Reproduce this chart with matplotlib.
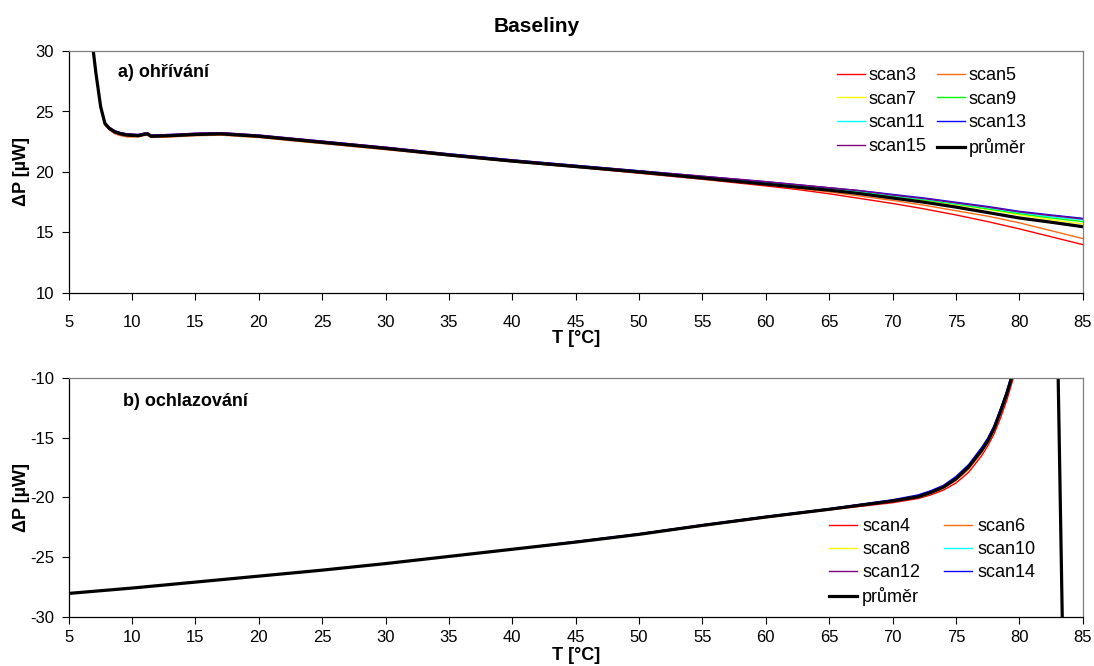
import matplotlib
matplotlib.use("Agg")
import matplotlib.pyplot as plt

plt.rcParams['font.family'] = ['Liberation Sans', 'DejaVu Sans']
plt.rcParams['axes.unicode_minus'] = False

# ---------------- data: a) heating ----------------
top_T = [6.94, 7.15, 7.52, 7.86, 8.2, 8.65, 9.1, 9.6, 10.5, 10.9, 11.2, 11.5, 13, 15, 17, 20,
         25, 30, 35, 40, 45, 50, 55, 60, 62.5, 65, 67.5, 70, 72.5, 75, 77.5, 80, 82.5, 85]
top_avg = [30.0, 28.15, 25.4, 24.0, 23.6, 23.3, 23.15, 23.05, 23.0, 23.1, 23.15, 22.95, 23.0, 23.1,
           23.15, 22.95, 22.45, 21.95, 21.4, 20.9, 20.45, 20.0, 19.5, 19.0, 18.75, 18.5, 18.2,
           17.85, 17.5, 17.1, 16.65, 16.2, 15.85, 15.48]
scan3 = [30.0, 28.05, 25.3, 23.9, 23.5, 23.2, 23.05, 22.95, 22.95, 23.05, 23.1, 22.9, 22.95, 23.05,
         23.1, 22.9, 22.4, 21.9, 21.35, 20.85, 20.4, 19.9, 19.4, 18.85, 18.55, 18.2, 17.8,
         17.4, 16.95, 16.45, 15.9, 15.3, 14.65, 14.0]
scan5 = [30.0, 28.05, 25.3, 23.9, 23.5, 23.15, 23.0, 22.9, 22.9, 23.0, 23.05, 22.85, 22.9, 23.0,
         23.05, 22.85, 22.35, 21.85, 21.35, 20.85, 20.4, 19.95, 19.45, 18.95, 18.65, 18.35, 18.0,
         17.65, 17.25, 16.8, 16.35, 15.8, 15.15, 14.5]
scan7 = [30.0, 28.15, 25.4, 24.0, 23.6, 23.3, 23.15, 23.05, 23.0, 23.1, 23.15, 22.95, 23.0, 23.1,
         23.15, 22.95, 22.45, 21.95, 21.45, 20.95, 20.5, 20.05, 19.55, 19.05, 18.8, 18.55, 18.3,
         17.95, 17.65, 17.3, 16.9, 16.45, 16.05, 15.7]
scan9 = [30.0, 28.15, 25.4, 24.0, 23.6, 23.3, 23.15, 23.1, 23.05, 23.15, 23.2, 23.0, 23.05, 23.15,
         23.2, 23.0, 22.5, 22.0, 21.45, 20.95, 20.5, 20.05, 19.6, 19.1, 18.85, 18.6, 18.35,
         18.0, 17.7, 17.35, 16.95, 16.55, 16.2, 15.9]
scan11 = [30.0, 28.15, 25.4, 24.0, 23.65, 23.35, 23.2, 23.1, 23.05, 23.15, 23.2, 23.0, 23.05, 23.15,
          23.2, 23.0, 22.5, 22.0, 21.5, 21.0, 20.55, 20.1, 19.6, 19.15, 18.9, 18.65, 18.4,
          18.05, 17.75, 17.4, 17.05, 16.65, 16.3, 16.05]
scan13 = [30.0, 28.2, 25.5, 24.1, 23.7, 23.4, 23.25, 23.15, 23.1, 23.2, 23.25, 23.05, 23.1, 23.2,
          23.25, 23.05, 22.55, 22.05, 21.5, 21.0, 20.55, 20.1, 19.65, 19.2, 18.95, 18.7, 18.45,
          18.15, 17.85, 17.5, 17.15, 16.75, 16.45, 16.17]
scan15 = [30.0, 28.2, 25.5, 24.1, 23.7, 23.4, 23.25, 23.15, 23.1, 23.2, 23.25, 23.05, 23.1, 23.2,
          23.25, 23.05, 22.55, 22.05, 21.5, 21.0, 20.55, 20.1, 19.65, 19.2, 18.95, 18.7, 18.45,
          18.1, 17.8, 17.45, 17.1, 16.7, 16.4, 16.12]

# ---------------- data: b) cooling ----------------
bot_T = [5, 10, 15, 20, 25, 30, 35, 40, 45, 50, 55, 60, 65, 70, 72, 73, 74, 75, 76, 77, 77.5,
         78, 78.5, 79, 79.5, 80]
scan4 = [-28.05, -27.6, -27.1, -26.6, -26.1, -25.55, -24.95, -24.35, -23.75, -23.1, -22.4, -21.7,
         -21.05, -20.45, -20.1, -19.8, -19.4, -18.8, -17.9, -16.55, -15.7, -14.7, -13.4,
         -11.9, -10.1, -8.0]
scan6 = [-28.05, -27.6, -27.1, -26.6, -26.1, -25.55, -24.95, -24.35, -23.75, -23.1, -22.35, -21.65,
         -21.0, -20.35, -20.0, -19.7, -19.25, -18.6, -17.65, -16.3, -15.45, -14.4, -13.0,
         -11.5, -9.7, -7.6]
scan8 = [-28.05, -27.6, -27.1, -26.6, -26.1, -25.55, -24.95, -24.35, -23.75, -23.1, -22.35, -21.65,
         -21.0, -20.3, -19.95, -19.6, -19.15, -18.45, -17.45, -16.1, -15.3, -14.25, -12.85,
         -11.35, -9.6, -7.5]
scan10 = [-28.05, -27.6, -27.1, -26.6, -26.1, -25.55, -24.95, -24.35, -23.75, -23.1, -22.35, -21.65,
          -21.0, -20.3, -19.9, -19.55, -19.1, -18.4, -17.4, -16.05, -15.25, -14.2, -12.8,
          -11.3, -9.5, -7.4]
scan12 = [-28.05, -27.6, -27.1, -26.6, -26.1, -25.55, -24.95, -24.35, -23.7, -23.05, -22.3, -21.6,
          -20.95, -20.25, -19.85, -19.5, -19.05, -18.35, -17.35, -15.95, -15.15, -14.1, -12.7,
          -11.2, -9.4, -7.3]
scan14 = [-28.05, -27.6, -27.1, -26.6, -26.1, -25.55, -24.95, -24.35, -23.7, -23.05, -22.3, -21.6,
          -20.95, -20.2, -19.8, -19.45, -19.0, -18.25, -17.25, -15.85, -15.05, -14.0, -12.6,
          -11.1, -9.3, -7.2]
bot_avg_T = [5, 10, 15, 20, 25, 30, 35, 40, 45, 50, 55, 60, 65, 70, 72, 73, 74, 75, 76, 77, 77.5,
             78, 78.5, 79, 79.5, 80, 83.05, 83.45]
bot_avg = [-28.05, -27.6, -27.1, -26.6, -26.1, -25.55, -24.95, -24.35, -23.75, -23.1, -22.35, -21.65,
           -21.0, -20.3, -19.95, -19.6, -19.15, -18.45, -17.45, -16.1, -15.3, -14.25, -12.85,
           -11.35, -9.6, -7.5, -9.0, -34.0]

# ---------------- styling ----------------
C = {'red': '#FF0000', 'orange': '#FF6A13', 'yellow': '#FFFF00', 'green': '#00FF00',
     'cyan': '#00FFFF', 'blue': '#0000FF', 'purple': '#800080', 'black': '#000000'}

W, H = 1094, 666
fig = plt.figure(figsize=(W / 100, H / 100), dpi=100)
ax1 = fig.add_axes([68.7 / W, 1 - 293 / H, 1014 / W, 242 / H])
ax2 = fig.add_axes([68.7 / W, 1 - 616.7 / H, 1014 / W, 238.7 / H])

lw = 1.0
top_series = [('scan3', scan3, 'red'), ('scan5', scan5, 'orange'), ('scan7', scan7, 'yellow'),
              ('scan9', scan9, 'green'), ('scan11', scan11, 'cyan'), ('scan13', scan13, 'blue'),
              ('scan15', scan15, 'purple')]
h1 = {}
for name, vals, col in top_series:
    h1[name], = ax1.plot(top_T, vals, color=C[col], lw=lw)
h1['průměr'], = ax1.plot(top_T, top_avg, color='black', lw=2.3)

bot_series = [('scan4', scan4, 'red'), ('scan6', scan6, 'orange'), ('scan8', scan8, 'yellow'),
              ('scan10', scan10, 'cyan'), ('scan12', scan12, 'purple'), ('scan14', scan14, 'blue')]
h2 = {}
for name, vals, col in bot_series:
    h2[name], = ax2.plot(bot_T, vals, color=C[col], lw=lw)
h2['průměr'], = ax2.plot(bot_avg_T, bot_avg, color='black', lw=2.3)

for ax, ylim, xpad, xlab_y in ((ax1, (10, 30), 10.8, -0.153), (ax2, (-30, -10), 4.3, -0.126)):
    ax.set_xlim(5, 85)
    ax.set_ylim(*ylim)
    ax.set_xticks(range(5, 86, 5))
    ax.set_yticks(range(ylim[0], ylim[1] + 1, 5))
    ax.tick_params(direction='out', length=5, width=0.8, labelsize=12, color='black')
    ax.tick_params(axis='x', pad=xpad)
    ax.tick_params(axis='y', pad=5.5)
    ax.spines['top'].set_color('#808080')
    ax.spines['right'].set_color('#808080')
    for s in ('left', 'bottom'):
        ax.spines[s].set_color('black')
    for s in ax.spines.values():
        s.set_linewidth(0.9)
    ax.set_xlabel('T [°C]', fontsize=13, fontweight='bold')
    ax.xaxis.set_label_coords(0.5, xlab_y)
    ax.set_ylabel('ΔP [µW]', fontsize=13, fontweight='bold')
    ax.yaxis.set_label_coords(-0.038, 0.5)

fig.text(118.3 / W, 1 - 77.3 / H, 'a) ohřívání', fontsize=13, fontweight='bold',
         va='baseline', ha='left')
fig.text(122.7 / W, 1 - 406 / H, 'b) ochlazování', fontsize=13, fontweight='bold',
         va='baseline', ha='left')

fig.text(536.5 / W, 1 - 32 / H, 'Baseliny', fontsize=15, fontweight='bold',
         ha='center', va='baseline')

order1 = ['scan3', 'scan7', 'scan11', 'scan15', 'scan5', 'scan9', 'scan13', 'průměr']
fig.legend([h1[k] for k in order1], order1, ncol=2, loc='upper left',
           bbox_to_anchor=(837 / W, 1 - 67 / H), frameon=False, fontsize=13,
           borderpad=0, handlelength=1.55, handletextpad=0.22, columnspacing=0.55,
           labelspacing=0.37, borderaxespad=0)

order2 = ['scan4', 'scan8', 'scan12', 'průměr', 'scan6', 'scan10', 'scan14']
fig.legend([h2[k] for k in order2], order2, ncol=2, loc='upper left',
           bbox_to_anchor=(829 / W, 1 - 518 / H), frameon=False, fontsize=13,
           borderpad=0, handlelength=1.55, handletextpad=0.28, columnspacing=1.33,
           labelspacing=0.33, borderaxespad=0)

fig.savefig('out.png', dpi=100)
